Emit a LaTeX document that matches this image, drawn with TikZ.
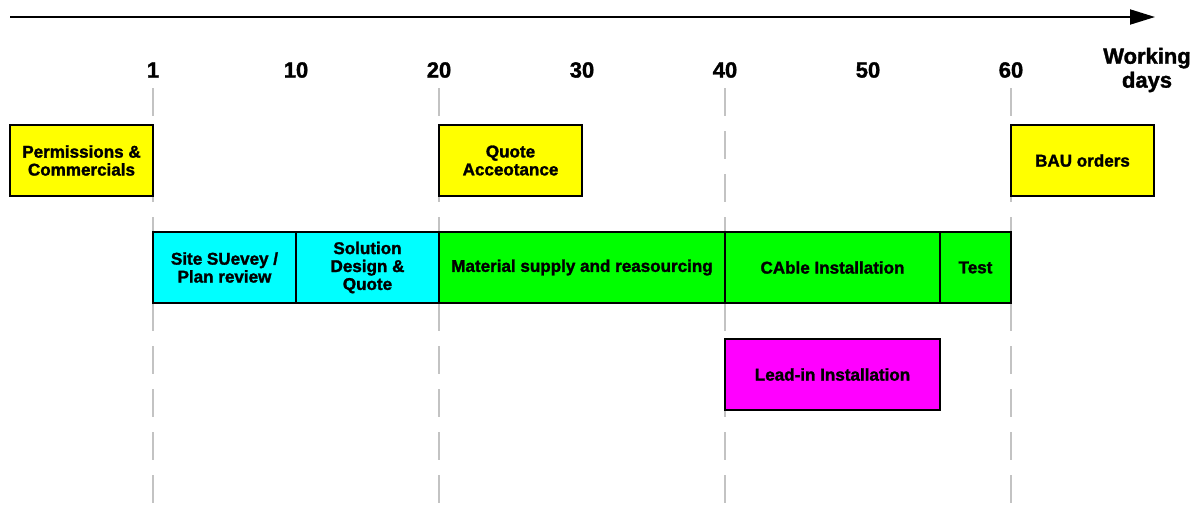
\documentclass[tikz,border=0pt]{standalone}
\usepackage{fontspec}
\setmainfont{Liberation Sans}[BoldFeatures={FakeBold=1.6}]
\usetikzlibrary{arrows.meta}
\definecolor{paleyellow}{RGB}{255,255,0}
\definecolor{brightcyan}{RGB}{0,255,255}
\definecolor{brightgreen}{RGB}{0,255,0}
\definecolor{brightmagenta}{RGB}{255,0,255}
\definecolor{linegrey}{RGB}{195,195,195}

\begin{document}
\begin{tikzpicture}[
		task/.style={draw=black, line width=0.85pt, minimum height=1.42cm, inner sep=1pt,
			align=center, font=\bfseries\fontsize{9.7}{10.2}\selectfont},
		daylabel/.style={font=\bfseries\fontsize{12.5}{13.6}\selectfont, align=center},
		gridline/.style={draw=linegrey, line width=1.1pt, dash pattern=on 0.56cm off 0.3cm}]
		 \useasboundingbox (0,0) rectangle (23.88,-10.1);

		 % Time axis
		 \coordinate (axisstart) at (0.2,-0.34);
		 \coordinate (axisend) at (23.1,-0.34);
		 \draw[line width=1.1pt, -{Triangle[length=0.5cm, width=0.3cm]}] (axisstart) -- (axisend);

		 % Day labels
		 \node[daylabel] (d1) at (3.06,-1.4) {1};
		 \node[daylabel] (d10) at (5.92,-1.4) {10};
		 \node[daylabel] (d20) at (8.78,-1.4) {20};
		 \node[daylabel] (d30) at (11.64,-1.4) {30};
		 \node[daylabel] (d40) at (14.5,-1.4) {40};
		 \node[daylabel] (d50) at (17.36,-1.4) {50};
		 \node[daylabel] (d60) at (20.22,-1.4) {60};
		 \node[daylabel] (unit) at (22.94,-1.4) {Working\\days};

		 % Milestone lines
		 \draw[gridline] (3.06,-1.76) -- (3.06,-10.1);
		 \draw[gridline] (8.78,-1.76) -- (8.78,-10.1);
		 \draw[gridline] (14.5,-1.76) -- (14.5,-10.1);
		 \draw[gridline] (20.22,-1.76) -- (20.22,-10.1);

		 % Commercial stages
		 \node[task, fill=paleyellow, minimum width=2.86cm] (perm) at (1.63,-3.21) {Permissions \&\\Commercials};
		 \node[task, fill=paleyellow, minimum width=2.86cm] (accept) at (10.21,-3.21) {Quote\\Acceotance};
		 \node[task, fill=paleyellow, minimum width=2.86cm] (bau) at (21.65,-3.21) {BAU orders};

		 % Delivery stages
		 \node[task, fill=brightcyan, minimum width=2.86cm] (survey) at (4.49,-5.35) {Site SUevey /\\Plan review};
		 \node[task, fill=brightcyan, minimum width=2.86cm] (design) at (7.35,-5.35) {Solution\\Design \&\\Quote};
		 \node[task, fill=brightgreen, minimum width=5.72cm] (supply) at (11.64,-5.35) {Material supply and reasourcing};
		 \node[task, fill=brightgreen, minimum width=4.3cm] (cable) at (16.65,-5.35) {CAble Installation};
		 \node[task, fill=brightgreen, minimum width=1.42cm] (test) at (19.51,-5.35) {Test};

		 % Lead-in
		 \node[task, fill=brightmagenta, minimum width=4.3cm] (leadin) at (16.65,-7.49) {Lead-in Installation};
	\end{tikzpicture}
\end{document}
